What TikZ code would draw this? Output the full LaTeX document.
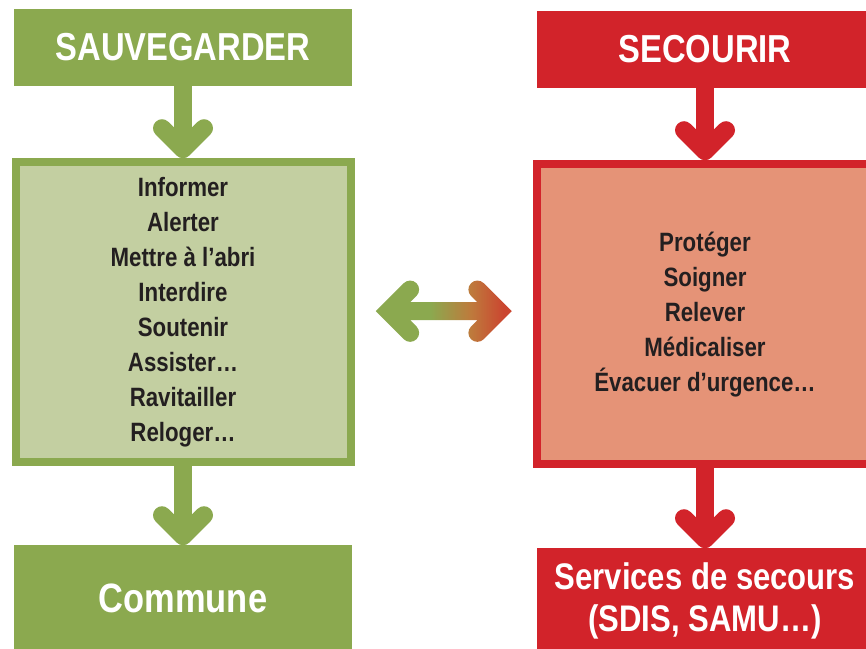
\documentclass[tikz,border=0pt]{standalone}
\usepackage{fontspec}
\setmainfont{Liberation Sans}[FakeStretch=0.84]
\usepackage{tikz}
\usetikzlibrary{positioning,arrows.meta,calc}

\definecolor{sgreen}{HTML}{8BA94F}
\definecolor{lgreen}{HTML}{C3CFA1}
\definecolor{sred}{HTML}{D2232A}
\definecolor{lred}{HTML}{E59377}
\definecolor{mixorange}{HTML}{BE7A3C}
\definecolor{endred}{HTML}{CB4630}
\definecolor{ink}{HTML}{231F20}

\pgfdeclarehorizontalshading{twoway}{100bp}{color(0bp)=(sgreen); color(45bp)=(sgreen); color(60bp)=(mixorange); color(72bp)=(endred); color(100bp)=(endred)}

\begin{document}
\begin{tikzpicture}[
    x=1pt, y=-1pt,
    head/.style={rectangle, minimum width=338pt, minimum height=77pt, inner sep=0pt, align=center, text=white, font=\fontsize{39}{42}\selectfont\bfseries},
    listbox/.style={rectangle, draw, line width=8pt, minimum width=335pt, minimum height=300pt, align=center, text=ink, font=\fontsize{26.5}{35}\selectfont\bfseries},
    fatarrow/.style={line width=18pt, -{Straight Barb[round, length=21pt, width=42pt]}}
]
    \clip (0,0) rectangle (866,648);

    % Sauvegarder
    \node[head, fill=sgreen] (sauv) at (183,47.5) {SAUVEGARDER};
    \node[listbox, draw=sgreen, fill=lgreen, below=72pt of sauv] (actions) {Informer\\Alerter\\Mettre à l’abri\\Interdire\\Soutenir\\Assister…\\Ravitailler\\Reloger…};
    \node[head, fill=sgreen, minimum height=105pt, font=\fontsize{41}{42}\selectfont\bfseries, below=79pt of actions] (commune) {Commune};

    % Secourir
    \node[head, fill=sred, minimum width=336pt] (secour) at (705,49.5) {SECOURIR};
    \node[listbox, draw=sred, fill=lred, minimum width=336pt, below=72pt of secour] (soins) {Protéger\\Soigner\\Relever\\Médicaliser\\Évacuer d’urgence…};
    \node[head, fill=sred, minimum width=336pt, minimum height=105pt, font=\fontsize{37}{42}\selectfont\bfseries, below=80pt of soins] (services) {Services de secours\\(SDIS, SAMU…)};

    % Arrows
    \draw[fatarrow, sgreen] (sauv) -- (actions);
    \draw[fatarrow, sgreen] (actions) -- (commune);
    \draw[fatarrow, sred] (secour) -- (soins);
    \draw[fatarrow, sred] (soins) -- (services);

    % double arrow between the two
    \coordinate (mid) at ($(actions.east)!0.5!(soins.west)+(0,-2)$);
    \shade[shading=twoway]
        ([shift={(-68,0)}]mid) -- ([shift={(-40,-28)}]mid) arc[start angle=225, end angle=405, radius=9]
        -- ([shift={(-33.54,-9)}]mid) -- ([shift={(33.54,-9)}]mid) -- ([shift={(27.27,-15.27)}]mid)
        arc[start angle=135, end angle=315, radius=9]
        -- ([shift={(68,0)}]mid) -- ([shift={(40,28)}]mid) arc[start angle=45, end angle=225, radius=9]
        -- ([shift={(33.54,9)}]mid) -- ([shift={(-33.54,9)}]mid) -- ([shift={(-27.27,15.27)}]mid)
        arc[start angle=-45, end angle=135, radius=9] -- cycle;
\end{tikzpicture}
\end{document}
